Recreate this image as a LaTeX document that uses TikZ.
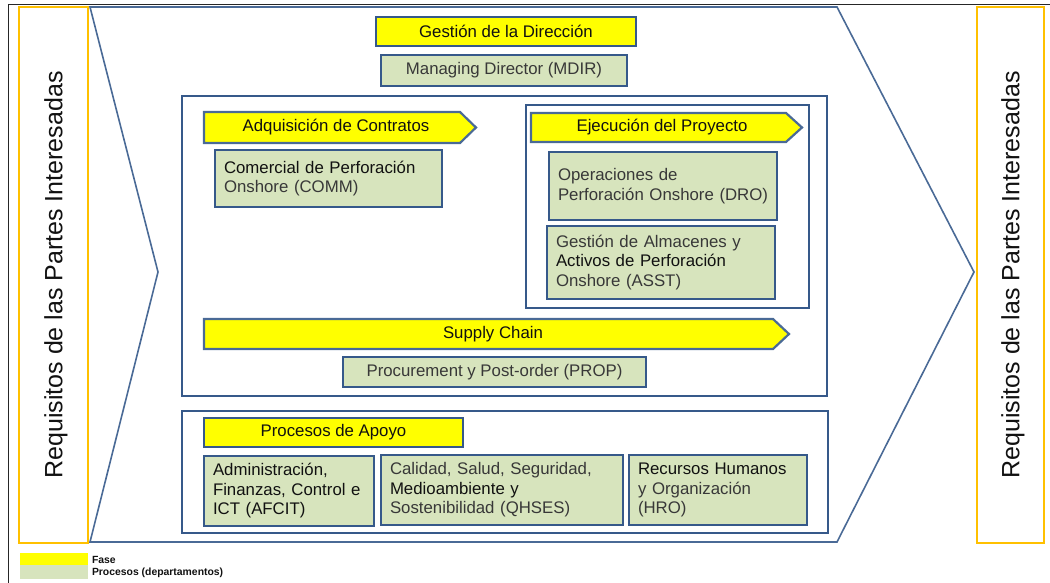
\documentclass[tikz,border=0pt]{standalone}
\usepackage{fontspec}
\setmainfont{Liberation Sans}
\definecolor{frameblue}{HTML}{36598A}
\definecolor{chevblue}{HTML}{4A6A96}
\definecolor{procgreen}{HTML}{D7E4BD}
\definecolor{phaseyel}{HTML}{FFFF00}
\definecolor{reqorange}{HTML}{FFC000}
\definecolor{txtgray}{HTML}{383838}
\definecolor{txtdark}{HTML}{111111}
\begin{document}
\begin{tikzpicture}[x=1pt,y=-1pt,
  every node/.style={font=\fontsize{16.8}{19.5}\selectfont, inner sep=0pt, outer sep=0pt},
  proc/.style={draw=frameblue, line width=2.8pt, fill=procgreen, text=txtgray, align=left},
  phasebox/.style={draw=frameblue, line width=2.4pt, fill=phaseyel, text=txtdark},
  phasearrow/.style={draw=frameblue!90, line width=2.2pt, fill=phaseyel, line join=miter},
  groupbox/.style={draw=frameblue, line width=2.8pt},
  reqbox/.style={draw=reqorange, line width=2.6pt},
  reqtext/.style={rotate=90, font=\fontsize{25}{30}\selectfont, text=txtdark},
  legtext/.style={anchor=west, font=\fontsize{10.4}{12}\bfseries, text=txtdark},
  ]
\useasboundingbox (0,0) rectangle (1050,583);

% outer frame
\draw[line width=1.6pt, black!85] (8.5,583) -- (8.5,4.5) -- (1050,4.5);

% chevron
\draw[chevblue, line width=1.6pt, line join=miter]
  (90,7) -- (837,7) -- (974,272) -- (837,542) -- (90,542) -- (158,272) -- cycle;

% stakeholder boxes
\node[reqbox, minimum width=69, minimum height=536] (reqL) at (53.5,275) {};
\node[reqbox, minimum width=67, minimum height=536] (reqR) at (1010.5,275) {};
\node[reqtext] (reqLt) at (56,275) {Requisitos de las Partes Interesadas};
\node[reqtext] (reqRt) at (1013,275) {Requisitos de las Partes Interesadas};

% management
\node[phasebox, minimum width=260, minimum height=29] (gest) at (506,31.5) {Gestión de la Dirección};
\node[proc, align=center, minimum width=246, minimum height=31] (mdir) at (504,70.5) {Managing Director (MDIR)};

% group boxes
\node[groupbox, minimum width=645, minimum height=300] (grp1) at (504.5,246) {};
\node[groupbox, minimum width=283, minimum height=203] (grpE) at (667.5,206.5) {};
\node[groupbox, minimum width=646, minimum height=122] (grp2) at (505,472) {};

% phase arrows
\draw[phasearrow] (204,112) -- (460,112) -- (476,127.5) -- (460,143) -- (204,143) -- cycle;
\node[text=txtdark] (adq) at (336,127.5) {Adquisición de Contratos};
\draw[phasearrow] (531,113) -- (786,113) -- (802,127.5) -- (786,142) -- (531,142) -- cycle;
\node[text=txtdark] (ejec) at (662,127.5) {Ejecución del Proyecto};
\draw[phasearrow] (204,319) -- (773,319) -- (789,334) -- (773,349) -- (204,349) -- cycle;
\node[text=txtdark] (supply) at (493,334) {Supply Chain};
\node[phasebox, minimum width=259, minimum height=29] (apoyo) at (333.5,432.5) {Procesos de Apoyo};

% process boxes
\node[proc, minimum width=227, minimum height=57, text width=209] (comm) at (328.5,178.5)
  {\textcolor{txtdark}{Comercial de Perforación}\\Onshore (COMM)};
\node[proc, minimum width=228, minimum height=68, text width=210] (dro) at (663,186)
  {Operaciones de\\\mbox{Perforación Onshore (DRO)}};
\node[proc, minimum width=228, minimum height=73, text width=210] (asst) at (661,262.5)
  {Gestión de Almacenes y\\\textcolor{txtdark}{Activos de Perforación}\\Onshore (ASST)};
\node[proc, align=center, minimum width=303, minimum height=30] (prop) at (494.5,372)
  {Procurement y Post-order (PROP)};
\node[proc, text=txtdark, minimum width=170, minimum height=70, text width=152] (afcit) at (289,491)
  {Administración,\\\mbox{Finanzas, Control e}\\ICT (AFCIT)};
\node[proc, minimum width=242, minimum height=70, text width=224] (qhses) at (502,490)
  {Calidad, Salud, Seguridad,\\\textcolor{txtdark}{Medioambiente y}\\Sostenibilidad (QHSES)};
\node[proc, minimum width=178, minimum height=70, text width=160] (hro) at (718,490)
  {\textcolor{txtdark}{Recursos Humanos}\\y Organización\\(HRO)};

% legend
\node[fill=phaseyel, minimum width=68, minimum height=12] (legF) at (54,559) {};
\node[fill=procgreen, minimum width=68, minimum height=14] (legP) at (54,572) {};
\node[legtext] (legFt) at (92,559.5) {Fase};
\node[legtext] (legPt) at (92,573) {Procesos (departamentos)};
\end{tikzpicture}
\end{document}
